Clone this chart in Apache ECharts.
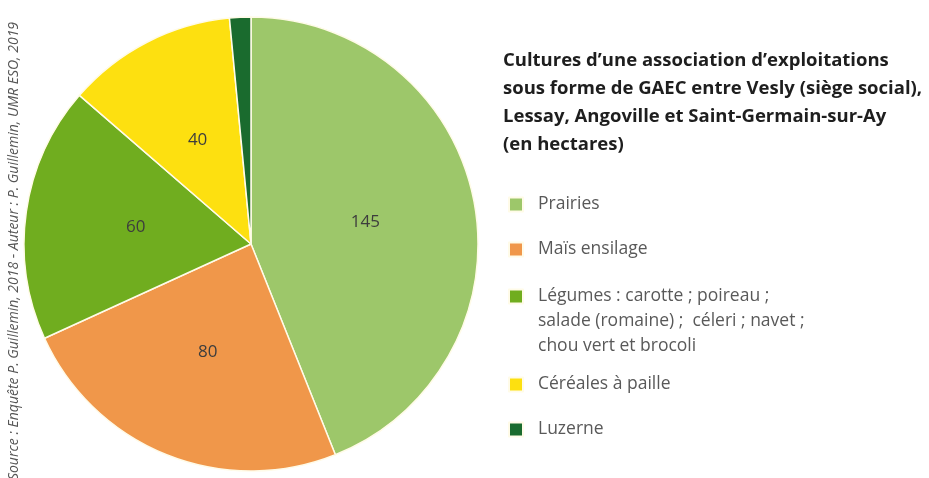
<!DOCTYPE html>
<html><head><meta charset="utf-8">
<script src="https://cdn.jsdelivr.net/npm/echarts@6/dist/echarts.min.js"></script>
<style>html,body{margin:0;padding:0;background:#fff}#c{width:929px;height:478px}</style>
</head><body><div id="c"></div>
<script>
const categories = ['Prairies', 'Maïs ensilage', 'Légumes', 'Céréales à paille', 'Luzerne'];
const legendLabels = ['Prairies', 'Maïs ensilage', '\n\nLégumes : carotte ; poireau ;\nsalade (romaine) ;  céleri ; navet ;\nchou vert et brocoli', 'Céréales à paille', 'Luzerne'];
const values = [145, 80, 60, 40, 5];
const colors = ['#9dc76a', '#f0974a', '#70ad1f', '#fde010', '#1a6b2e'];
const showLabel = [true, true, true, true, false];
const titleText = 'Cultures d\u2019une association d\u2019exploitations\nsous forme de GAEC entre Vesly (siège social),\nLessay, Angoville et Saint-Germain-sur-Ay\n(en hectares)';
const sourceText = 'Source : Enquête P. Guillemin, 2018 - Auteur : P. Guillemin, UMR ESO, 2019';

const FONT = '"Open Sans", sans-serif';
const LH = 25;
const legendCenters = [199, 244, 291, 379, 424];
const legends = categories.map((c, i) => ({
  data: [c],
  left: 508,
  top: legendCenters[i] - 7 - (i === 2 ? 2 * LH : 0),
  orient: 'vertical',
  itemWidth: 14,
  itemHeight: 14,
  itemGap: 0,
  padding: 0,
  icon: 'rect',
  selectedMode: false,
  formatter: () => legendLabels[i],
  textStyle: { fontFamily: FONT, fontSize: 17.5, color: '#595959', lineHeight: LH, padding: [0, 0, 0, 10] }
}));

const chart = echarts.init(document.getElementById('c'));
chart.setOption({
  animation: false,
  color: colors,
  title: {
    text: titleText,
    left: 498, top: 42,
    textStyle: { fontFamily: FONT, fontSize: 18.5, fontWeight: 'bold', color: '#1e1e1e', lineHeight: 28 }
  },
  legend: legends,
  graphic: [{
    type: 'text',
    x: 14, y: 251,
    rotation: Math.PI / 2,
    style: { text: sourceText, fontFamily: FONT, fontStyle: 'italic', fontSize: 14, fill: '#555', align: 'center', verticalAlign: 'middle' }
  }],
  series: [{
    type: 'pie',
    center: [251, 244],
    radius: [0, 227],
    startAngle: 90,
    clockwise: true,
    avoidLabelOverlap: false,
    itemStyle: { borderColor: '#fffbe8', borderWidth: 1.5 },
    label: { position: 'inside', fontFamily: FONT, fontSize: 17, color: '#3d3d3d', formatter: '{c}' },
    labelLine: { show: false },
    emphasis: { disabled: true },
    data: categories.map((c, i) => ({ name: c, value: values[i], label: { show: showLabel[i] } }))
  }]
});
</script></body></html>
